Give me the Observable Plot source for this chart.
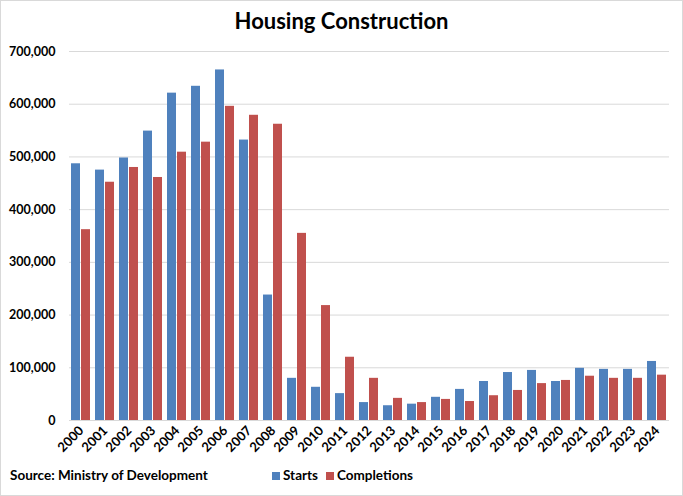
<!DOCTYPE html>
<html>
<head>
<meta charset="utf-8">
<script src="https://cdn.jsdelivr.net/npm/d3@7"></script>
<script src="https://cdn.jsdelivr.net/npm/@observablehq/plot@0.6"></script>
<style>
  html, body { margin: 0; padding: 0; background: #fff; }
  #chart {
    position: relative; width: 683px; height: 496px; box-sizing: border-box;
    border: 1px solid #d9d9d9; font-family: Lato, "Open Sans", sans-serif; color: #000;
  }
  #title { position: absolute; top: 6px; left: 0; width: 100%; text-align: center;
    font-size: 22px; font-weight: bold; }
  #plot { position: absolute; top: 40px; left: 0; }
  #plot svg { overflow: visible; }
  #source { position: absolute; left: 9px; top: 466px; font-size: 13.5px; font-weight: bold; }
  #legend { position: absolute; left: 271px; top: 466px; font-size: 13.5px; font-weight: bold; display: flex; gap: 8px; }
  #legend span.sw { display: inline-block; width: 8px; height: 8px; margin-right: 3px; }
</style>
</head>
<body>
<div id="chart">
  <div id="title">Housing Construction</div>
  <div id="plot"></div>
  <div id="source">Source: Ministry of Development</div>
  <div id="legend"></div>
</div>
<script>
const years = ["2000","2001","2002","2003","2004","2005","2006","2007","2008","2009","2010","2011","2012",
  "2013","2014","2015","2016","2017","2018","2019","2020","2021","2022","2023","2024"];
const starts = [487000, 475000, 498000, 549000, 621000, 634000, 665000, 532000, 238000, 80000, 63000, 51000, 34000,
  28000, 31000, 44000, 59000, 74000, 91000, 95000, 74000, 99000, 97000, 97000, 112000];
const completions = [362000, 452000, 480000, 461000, 509000, 528000, 596000, 579000, 562000, 355000, 218000, 120000, 80000,
  42000, 34000, 40000, 36000, 47000, 57000, 70000, 76000, 84000, 80000, 80000, 86000];
const seriesNames = ["Starts", "Completions"];
const seriesColors = ["#4F81BD", "#C0504D"];
const yTicks = [0, 100000, 200000, 300000, 400000, 500000, 600000, 700000];

const rows = [];
years.forEach((yr, i) => {
  rows.push({year: yr, series: seriesNames[0], value: starts[i]});
  rows.push({year: yr, series: seriesNames[1], value: completions[i]});
});

// Years are facets laid edge to edge, so the gridlines drawn in each facet join up
const chart = Plot.plot({
  width: 681,
  height: 422,
  marginTop: 10,
  marginLeft: 65,
  marginRight: 10,
  marginBottom: 43,
  style: {fontFamily: "Lato, 'Open Sans', sans-serif", fontWeight: "bold", fontSize: "13px", color: "#000", overflow: "visible"},
  x: {domain: seriesNames, paddingInner: 0.07, paddingOuter: 0.2, axis: null},
  fx: {domain: years, padding: 0, label: null},
  y: {domain: [0, 700000]},
  color: {domain: seriesNames, range: seriesColors},
  marks: [
    Plot.ruleY(yTicks, {stroke: "#d9d9d9", strokeWidth: 1}),
    Plot.barY(rows, {fx: "year", x: "series", y: "value", fill: "series"}),
    Plot.axisFx({label: null, tickRotate: -45, tickSize: 0, tickPadding: 8, fontSize: 13, anchor: "bottom"}),
    Plot.axisY(yTicks, {tickFormat: d3.format(","), tickSize: 0, tickPadding: 14, label: null, fontSize: 12.5})
  ]
});
document.getElementById("plot").appendChild(chart);

const legend = document.getElementById("legend");
seriesNames.forEach((name, i) => {
  const item = document.createElement("div");
  item.innerHTML = `<span class="sw" style="background:${seriesColors[i]}"></span>${name}`;
  legend.appendChild(item);
});
</script>
</body>
</html>
